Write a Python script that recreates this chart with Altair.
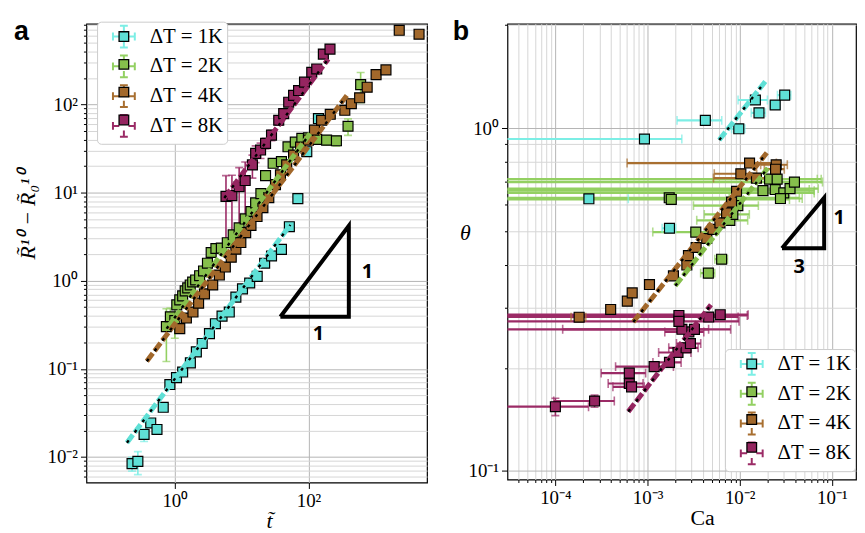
import altair as alt
import pandas as pd

LABELS = ["ΔT = 1K", "ΔT = 2K", "ΔT = 4K", "ΔT = 8K"]
SQ_KEYS = ["s1", "s2", "s3", "s4"]
FILL = ["#5fe0d6", "#86bf4c", "#a2682b", "#952560"]
BAR = ["#7ceee5", "#93d062", "#a86f30", "#9b2b66"]

# ---------------- panel a : R^10 - R0^10 vs t ----------------
a_t_1 = [0.229, 0.28, 0.347, 0.436, 0.541, 0.671, 0.843, 1.06, 1.31, 1.71, 2.10, 2.57, 3.30, 4.05,
         5.09, 6.53, 8.2, 10.3, 13.2, 17.1, 22.1, 28.0, 39.4, 51.8, 69.4, 94.4, 141]
a_R_1 = [0.0084, 0.0089, 0.018, 0.0243, 0.0205, 0.0366, 0.0664, 0.0796, 0.092, 0.117, 0.156, 0.194,
         0.251, 0.325, 0.397, 0.441, 0.652, 0.807, 0.942, 1.12, 1.58, 1.91, 2.27, 4.10, 8.53, 29.1, 69.2]
a_E_1 = [0.0015, 0.0026, 0.003, 0.002, 0.002, 0.002, 0.003, 0.003, 0.004, 0.005, 0.006, 0.007, 0.008,
         0.01, 0.012, 0.013, 0.02, 0.025, 0.03, 0.035, 0.05, 0.06, 0.07, 0.12, 0.25, 0.8, 1.8]

a_t_2 = [0.748, 0.858, 1.0, 1.07, 1.186, 1.31, 1.43, 1.56, 1.70, 1.85, 2.05, 2.35, 2.69, 3.08, 3.50,
         4.12, 4.97, 6.10, 7.48, 9.18, 11.3, 13.8, 16.2, 19.4, 22.8, 29.6, 39.4, 49.4, 63.5, 79.6, 100,
         133, 187, 262, 391, 604]
a_R_2 = [0.301, 0.390, 0.352, 0.532, 0.606, 0.673, 0.766, 0.828, 0.895, 0.967, 1.02, 1.14, 1.29, 1.58,
         2.09, 2.32, 2.34, 2.70, 3.32, 3.98, 5.03, 6.1, 7.64, 9.72, 15.6, 21.5, 22.5, 33.1, 37.4, 41.2,
         41.8, 40.1, 39.4, 38.7, 56.6, 168]
a_E_2 = [0.18, 0.1, 0.13, 0.05, 0.06, 0.05, 0.06, 0.06, 0.07, 0.07, 0.08, 0.09, 0.1, 0.12, 0.15, 0.17,
         0.18, 0.2, 0.25, 0.3, 0.35, 0.45, 0.55, 0.7, 1.1, 1.5, 1.6, 2.3, 2.6, 3, 3, 3.5, 5, 5, 12, 63]

a_t_4 = [1.186, 1.49, 1.87, 2.27, 2.78, 3.69, 4.64, 5.70, 6.99, 8.2, 9.73, 11.5, 13.8, 17.0, 20.8, 25.5,
         32.1, 38.1, 47.2, 59.9, 76.1, 100, 123, 157, 212, 350, 438, 583, 756, 1028, 1445, 2283, 4518]
a_R_4 = [0.286, 0.377, 0.441, 0.556, 0.708, 0.895, 1.16, 1.43, 1.85, 2.28, 2.71, 3.51, 4.24, 5.35, 6.76,
         8.76, 12.3, 15.9, 20.6, 26.7, 32.9, 39.4, 51.1, 66.2, 77.4, 85.9, 102, 119, 157, 218, 247, 695, 627]
a_E_4 = [0.01, 0.012, 0.015, 0.02, 0.025, 0.03, 0.04, 0.05, 0.06, 0.07, 0.08, 0.1, 0.12, 0.15, 0.2, 0.25,
         0.35, 0.45, 0.6, 0.8, 1, 1.2, 1.5, 2, 2.3, 2.6, 3, 3.5, 5, 7, 8, 20, 25]

a_t_8 = [5.83, 7.16, 9.18, 11.3, 14.5, 16.2, 19.2, 22.8, 28.0, 35.9, 42.6, 50.6, 59.9, 71.1, 87.3, 112,
         133, 167, 210]
a_R_8 = [9.06, 9.23, 11.7, 13.7, 20.6, 27.9, 30.4, 36.2, 44.9, 66.2, 78.7, 106, 127, 144, 179, 232, 253,
         373, 425]
a_E_8 = [6.5, 6.5, 7.5, 8.5, 6, 6, 6, 5, 6, 8, 8, 9, 10, 12, 15, 18, 20, 28, 32]

# fitted power laws (end points)
a_fit_t = [[0.192, 53.5], [0.753, 106], [0.381, 391], [5.5, 198]]
a_fit_R = [[0.0145, 4.30], [0.286, 46.9], [0.122, 132], [8.69, 328]]

# slope triangle
a_tri_t = [38, 402, 402, 38]
a_tri_R = [0.39, 0.39, 4.2, 0.39]
a_tri_lab = ["1", "1"]
a_tri_lab_t = [763, 141]
a_tri_lab_R = [1.25, 0.251]

# ---------------- panel b : theta vs Ca ----------------
b_C_1 = [9.26e-4, 2.31e-4, 1.73e-3, 4.24e-3, 9.78e-3, 1.48e-2, 1.62e-2, 2.43e-2, 3.08e-2]
b_th_1 = [0.931, 0.623, 0.511, 1.055, 0.997, 1.21, 1.11, 1.17, 1.25]
b_Ce_1 = [1.43e-3, 3.87e-4, 2.9e-4, 2.15e-3, 1.6e-3, 5.2e-3, 2.85e-3, 2.95e-3, 5.1e-3]
b_te_1 = [0.01, 0.01, 0.012, 0.015, 0.015, 0.02, 0.02, 0.02, 0.02]

b_C_2 = [1.72e-3, 1.81e-3, 1.79e-2, 2.11e-2, 2.55e-2, 2.43e-2, 3.01e-2, 3.52e-2, 3.93e-2, 2.77e-2,
         7.82e-3, 3.34e-3, 6.37e-3, 4.57e-3, 9.55e-3, 8.43e-3]
b_th_2 = [0.627, 0.620, 0.658, 0.711, 0.711, 0.663, 0.648, 0.667, 0.697, 0.624, 0.539, 0.498, 0.415,
          0.378, 0.595, 0.561]
b_Ce_2 = [4.27e-2, 3.29e-2, 4.65e-2, 4.84e-2, 5.12e-2, 3.26e-2, 3.43e-2, 3.6e-2, 4.0e-2, 2.0e-2,
          4.4e-3, 2.2e-3, 1.0e-3, 8e-4, 6.4e-3, 4.3e-3]
b_te_2 = [0.012] * 16

b_C_4 = [1.81e-4, 3.98e-4, 6.03e-4, 6.82e-4, 1.05e-3, 1.91e-3, 2.67e-3, 2.78e-3, 3.37e-3, 4.39e-3,
         5.13e-3, 6.1e-3, 7.21e-3, 8.16e-3, 9.25e-3, 1.03e-2, 1.28e-2, 1.52e-2, 2.49e-2, 2.45e-2]
b_th_4 = [0.281, 0.296, 0.313, 0.331, 0.350, 0.371, 0.399, 0.425, 0.449, 0.477, 0.507, 0.530, 0.567,
          0.609, 0.655, 0.737, 0.792, 0.716, 0.783, 0.760]
b_Ce_4 = [3.3e-5, 2e-5, 3e-5, 3.5e-5, 5e-5, 1e-4, 1.3e-4, 1.4e-4, 1.7e-4, 2.2e-4, 2.6e-4, 3e-4, 3.6e-4,
          4e-4, 4.6e-4, 5e-3, 1.22e-2, 1.0e-2, 8e-3, 6e-3]
b_te_4 = [0.008] * 20

b_C_8 = [1.0e-4, 2.66e-4, 6.34e-4, 6.34e-4, 6.71e-4, 1.18e-3, 1.73e-3, 2.14e-3, 2.62e-3, 2.92e-3,
         2.81e-3, 2.36e-3, 3.23e-3, 2.19e-3, 2.19e-3, 4.61e-3, 6.15e-3]
b_th_8 = [0.154, 0.160, 0.193, 0.180, 0.176, 0.2016, 0.2074, 0.2217, 0.2288, 0.2355, 0.2546, 0.2591,
          0.259, 0.2844, 0.2733, 0.2814, 0.2858]
b_Ce_8 = [1.29e-4, 1.7e-4, 3.2e-4, 2.6e-4, 2.5e-4, 7.3e-4, 5.85e-4, 8.2e-4, 9.2e-4, 8.6e-4, 1.27e-3,
          2.24e-3, 4.75e-3, 9.9e-3, 7.66e-3, 5e-3, 6.2e-3]
b_te_8 = [0.009, 0.0065, 0.004, 0.004, 0.004, 0.004, 0.004, 0.004, 0.004, 0.004, 0.004, 0.004, 0.004,
          0.004, 0.004, 0.004, 0.004]

b_fit_C = [[6.0e-3, 1.91e-2], [2.0e-3, 2.02e-2], [7.0e-4, 1.97e-2], [6.18e-4, 4.88e-3]]
b_fit_th = [[0.925, 1.374], [0.347, 0.766], [0.272, 0.849], [0.149, 0.3055]]

b_tri_C = [0.0288, 0.0826, 0.0826, 0.0288]
b_tri_th = [0.447, 0.447, 0.627, 0.447]
b_tri_lab = ["1", "3"]
b_tri_lab_C = [0.12, 0.0443]
b_tri_lab_th = [0.546, 0.394]

# ---------------- helpers ----------------
DEC = "abs(log(datum.value)/LN10 - round(log(datum.value)/LN10)) < 0.001"
SUP = ("replace(replace(replace(replace(replace(replace('' + round(log(datum.value)/LN10),"
       " '-', '⁻'), '0', '⁰'), '1', '¹'), '2', '²'), '3', '³'), '4', '⁴')")
LABEL_EXPR = f"({DEC}) ? '10' + {SUP} : ''"

EXTENT = "M-1,-1L-1,-1M1,1L1,1"
CROSS = (EXTENT + "M-1,0H-0.42M0.42,0H1M0,-1V-0.42M0,0.42V1"
         "M-1,-0.36V0.36M1,-0.36V0.36M-0.36,-1H0.36M-0.36,1H0.36")
SQUARE = EXTENT + "M-0.44,-0.44H0.44V0.44H-0.44Z"


def log_values(kmin, kmax, lo, hi):
    vals = []
    for k in range(kmin, kmax + 1):
        for m in range(1, 10):
            v = m * 10.0 ** k
            if lo <= v <= hi:
                vals.append(v)
    return vals


def make_axis(values, title, **kw):
    return alt.Axis(values=values, labelExpr=LABEL_EXPR, title=title, grid=True,
                    gridColor={"condition": {"test": DEC, "value": "#b4b4b4"}, "value": "#d6d6d6"},
                    tickSize={"condition": {"test": DEC, "value": 6}, "value": 3},
                    labelOverlap=False, labelFlush=False, labelBound=False, **kw)


def frames(xs, ys, xe, ye):
    pts, yb, yc, xb, xc = [], [], [], [], []
    for i in range(4):
        for j in range(len(xs[i])):
            x, y = xs[i][j], ys[i][j]
            pts.append({"x": x, "y": y, "sq": SQ_KEYS[i]})
            if ye is not None and ye[i][j] > 0:
                lo, hi = y - ye[i][j], y + ye[i][j]
                yb.append({"x": x, "lo": max(lo, 1e-9), "hi": hi, "dt": LABELS[i]})
                yc.append({"x": x, "y": hi, "bc": BAR[i]})
                if lo > 0:
                    yc.append({"x": x, "y": lo, "bc": BAR[i]})
            if xe is not None and xe[i][j] > 0:
                lo, hi = x - xe[i][j], x + xe[i][j]
                xb.append({"y": y, "lo": max(lo, 1e-9), "hi": hi, "dt": LABELS[i]})
                xc.append({"x": hi, "y": y, "bc": BAR[i]})
                if lo > 0:
                    xc.append({"x": lo, "y": y, "bc": BAR[i]})
    return (pd.DataFrame(pts), pd.DataFrame(yb), pd.DataFrame(yc),
            pd.DataFrame(xb), pd.DataFrame(xc))


def fit_frame(fx, fy):
    rows = []
    for i in range(4):
        for j in range(2):
            rows.append({"x": fx[i][j], "y": fy[i][j], "dt": LABELS[i], "lc": FILL[i]})
    return pd.DataFrame(rows)


def legend_pair(lx, ly):
    common = dict(orient="none", legendX=lx, legendY=ly, title=None, padding=3, rowPadding=0,
                  symbolSize=484, symbolOffset=12, labelOffset=14, labelFont="Liberation Serif",
                  labelFontSize=21, labelColor="black", labelLimit=200)
    lg_bar = alt.Legend(symbolType=CROSS, symbolStrokeWidth=2, symbolFillColor="transparent",
                        fillColor="white", strokeColor="#cccccc", cornerRadius=4, **common)
    lg_sq = alt.Legend(symbolType=SQUARE, symbolStrokeColor="black", symbolStrokeWidth=1.3,
                       symbolOpacity=1, labelOpacity=0, labelExpr="datum.label == 's1' ? 'ΔT = 1K' : "
                       "datum.label == 's2' ? 'ΔT = 2K' : datum.label == 's3' ? 'ΔT = 4K' : 'ΔT = 8K'",
                       **common)
    return lg_bar, lg_sq


def panel(xs, ys, xe, ye, fx, fy, tri_x, tri_y, lab, lab_x, lab_y, xscale, yscale,
          xaxis, yaxis, lx, ly, letter, letter_x, w, h):
    pts, yb, yc, xb, xc = frames(xs, ys, xe, ye)
    fits = fit_frame(fx, fy)
    lg_bar, lg_sq = legend_pair(lx, ly)
    stroke_enc = alt.Stroke("dt:N", scale=alt.Scale(domain=LABELS, range=BAR), legend=lg_bar)
    fill_enc = alt.Fill("sq:N", scale=alt.Scale(domain=SQ_KEYS, range=FILL), legend=lg_sq)

    def X(f):
        return alt.X(f, type="quantitative", scale=xscale, axis=xaxis)

    def Y(f):
        return alt.Y(f, type="quantitative", scale=yscale, axis=yaxis)

    layers = []
    if len(yb):
        layers.append(alt.Chart(yb).mark_rule(clip=True, strokeWidth=1.6).encode(
            x=X("x"), y=Y("lo"), y2="hi", stroke=stroke_enc))
        layers.append(alt.Chart(yc).mark_tick(clip=True, orient="horizontal", size=8, thickness=1.6).encode(
            x=X("x"), y=Y("y"), color=alt.Color("bc:N", scale=None)))
    if len(xb):
        layers.append(alt.Chart(xb).mark_rule(clip=True, strokeWidth=2.2).encode(
            y=Y("y"), x=X("lo"), x2="hi", stroke=stroke_enc))
        layers.append(alt.Chart(xc).mark_tick(clip=True, orient="vertical", size=9, thickness=1.6).encode(
            x=X("x"), y=Y("y"), color=alt.Color("bc:N", scale=None)))
    layers.append(alt.Chart(pts).mark_point(shape="square", filled=True, size=100, stroke="black",
                                            strokeWidth=1.2, opacity=1, clip=True).encode(
        x=X("x"), y=Y("y"), fill=fill_enc))
    layers.append(alt.Chart(fits).mark_line(clip=True, strokeWidth=5, strokeDash=[10, 3]).encode(
        x=X("x"), y=Y("y"), detail="dt:N", stroke=alt.Stroke("lc:N", scale=None)))
    layers.append(alt.Chart(fits).mark_line(clip=True, strokeWidth=2.4, strokeDash=[3, 10],
                                            color="black").encode(
        x=X("x"), y=Y("y"), detail="dt:N"))
    tri = pd.DataFrame({"x": tri_x, "y": tri_y, "o": list(range(len(tri_x)))})
    layers.append(alt.Chart(tri).mark_line(color="black", strokeWidth=4, strokeJoin="miter").encode(
        x=X("x"), y=Y("y"), order="o:Q"))
    labs = pd.DataFrame({"x": lab_x, "y": lab_y, "t": lab})
    layers.append(alt.Chart(labs).mark_text(font="Open Sans", fontWeight="bold", fontSize=20,
                                            color="black").encode(
        x=X("x"), y=Y("y"), text="t:N"))
    letter_df = pd.DataFrame({"t": [letter]})
    layers.append(alt.Chart(letter_df).mark_text(font="Liberation Sans", fontWeight="bold", fontSize=27,
                                                 align="left", baseline="bottom", color="black").encode(
        x=alt.value(letter_x), y=alt.value(22), text="t:N"))
    return alt.layer(*layers).properties(width=w, height=h)


# ---------------- panel a ----------------
a_x_dom = [0.0476, 5950]
a_y_dom = [0.00513, 824]
a_xscale = alt.Scale(type="log", domain=a_x_dom, nice=False)
a_yscale = alt.Scale(type="log", domain=a_y_dom, nice=False)
a_xaxis = make_axis([1, 100], "t\u0303", titleX=184, titleY=50, titleBaseline="bottom",
                    titleFontStyle="italic", labelPadding=3)
a_yaxis = make_axis(log_values(-3, 2, a_y_dom[0], a_y_dom[1]),
                    "R\u0303\u00b9\u2070 \u2212 R\u0303\u2080\u00b9\u2070", titleFontStyle="italic",
                    titlePadding=8, titleY=192, titleAlign="center", labelPadding=3)
chart_a = panel([a_t_1, a_t_2, a_t_4, a_t_8], [a_R_1, a_R_2, a_R_4, a_R_8], None,
                [a_E_1, a_E_2, a_E_4, a_E_8], a_fit_t, a_fit_R, a_tri_t, a_tri_R,
                a_tri_lab, a_tri_lab_t, a_tri_lab_R, a_xscale, a_yscale, a_xaxis, a_yaxis,
                10.7, -2.1, "a", -73, 343, 462)

# ---------------- panel b ----------------
b_x_dom = [3.02e-5, 0.183]
b_y_dom = [0.0944, 2.02]
b_xscale = alt.Scale(type="log", domain=b_x_dom, nice=False)
b_yscale = alt.Scale(type="log", domain=b_y_dom, nice=False)
b_xaxis = make_axis(log_values(-5, -1, b_x_dom[0], b_x_dom[1]), "Ca", titleX=196, titleY=50,
                    titleBaseline="bottom", labelPadding=3)
b_yaxis = make_axis(log_values(-2, 0, b_y_dom[0], b_y_dom[1]), "θ", titleFontStyle="italic",
                    titleAngle=0, titleX=-43, titleY=210, titleAlign="center",
                    titleBaseline="middle", labelPadding=3)
chart_b = panel([b_C_1, b_C_2, b_C_4, b_C_8], [b_th_1, b_th_2, b_th_4, b_th_8],
                [b_Ce_1, b_Ce_2, b_Ce_4, b_Ce_8], [b_te_1, b_te_2, b_te_4, b_te_8],
                b_fit_C, b_fit_th, b_tri_C, b_tri_th, b_tri_lab, b_tri_lab_C, b_tri_lab_th,
                b_xscale, b_yscale, b_xaxis, b_yaxis, 219, 327.6, "b", -55, 351, 459)

chart = alt.hconcat(chart_a, chart_b, spacing=24).resolve_scale(
    stroke="independent", fill="independent").resolve_legend(
    stroke="independent", fill="independent").properties(
    padding={"left": 5, "top": 5, "right": 0, "bottom": 0}
).configure_axis(
    labelFont="Liberation Serif", labelFontSize=19, labelColor="black",
    titleFont="Liberation Serif", titleFontSize=22, titleFontWeight="normal", titleColor="black",
    tickColor="black", tickWidth=1, domain=False, gridWidth=1
).configure_legend(labelFont="Liberation Serif").configure_view(stroke="black", strokeWidth=1.2)

chart.save("out.html", embed_options={"renderer": "svg", "actions": False})
